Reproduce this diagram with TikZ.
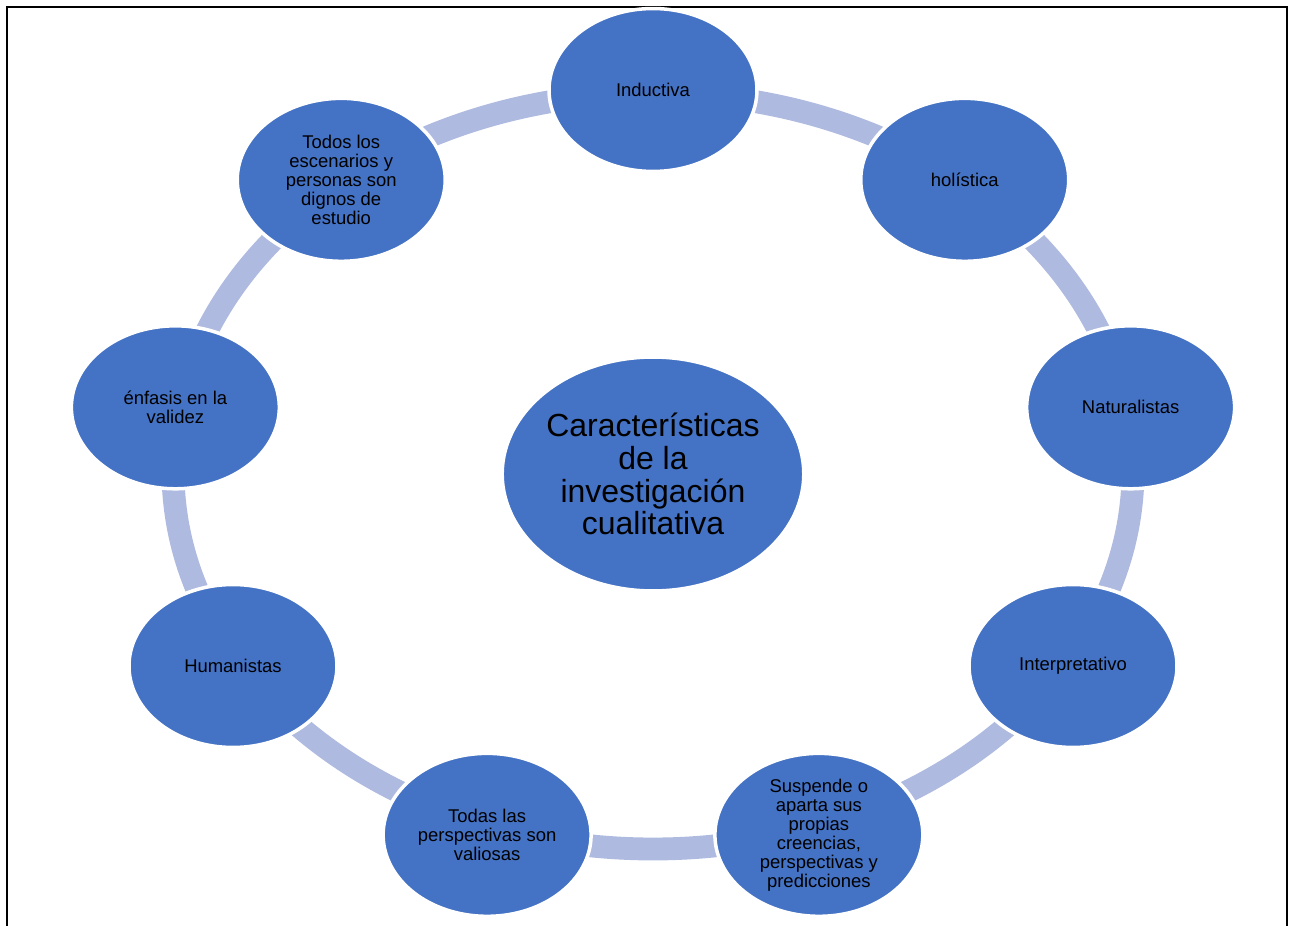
\documentclass[tikz,border=0pt]{standalone}
\usepackage{fontspec}
\setmainfont{Liberation Sans}
\usetikzlibrary{shapes.geometric}
\definecolor{nodoazul}{RGB}{68,114,196}
\definecolor{anillo}{RGB}{174,186,223}
\begin{document}
\begin{tikzpicture}[x=0.02cm,y=0.02cm,
    satelite/.style={ellipse, fill=nodoazul, draw=white, line width=2pt,
        minimum width=4.16cm, minimum height=3.26cm, inner sep=0pt,
        align=center, font=\fontsize{10.5}{10.8}\selectfont},
    centro/.style={ellipse, fill=nodoazul, draw=white, line width=2pt,
        minimum width=5.96cm, minimum height=4.68cm, inner sep=0pt,
        align=center, font=\fontsize{18.2}{18.7}\selectfont}]
    \useasboundingbox (-653,-452) rectangle (642,474);
    \draw[line width=1.2pt] (-646,-452) -- (-646,467) -- (634,467) -- (634,-452);
    % anillo
    \draw[anillo, line width=13pt] (0,3) ellipse [x radius=480, y radius=378];
    \node[centro] (c) at (0,0) {Características\\de la\\investigación\\cualitativa};
    \foreach \a/\n/\t in {90/n1/Inductiva, 50/n2/holística, 10/n3/Naturalistas,
        -30/n4/Interpretativo,
        -70/n5/{Suspende o\\aparta sus\\propias\\creencias,\\perspectivas y\\predicciones},
        -110/n6/{Todas las\\perspectivas son\\valiosas},
        -150/n7/Humanistas, 170/n8/{énfasis en la\\validez},
        130/n9/{Todos los\\escenarios y\\personas son\\dignos de\\estudio}} {
        \node[satelite] (\n) at (\a:485 and 384) {\t};
    }
\end{tikzpicture}
\end{document}
